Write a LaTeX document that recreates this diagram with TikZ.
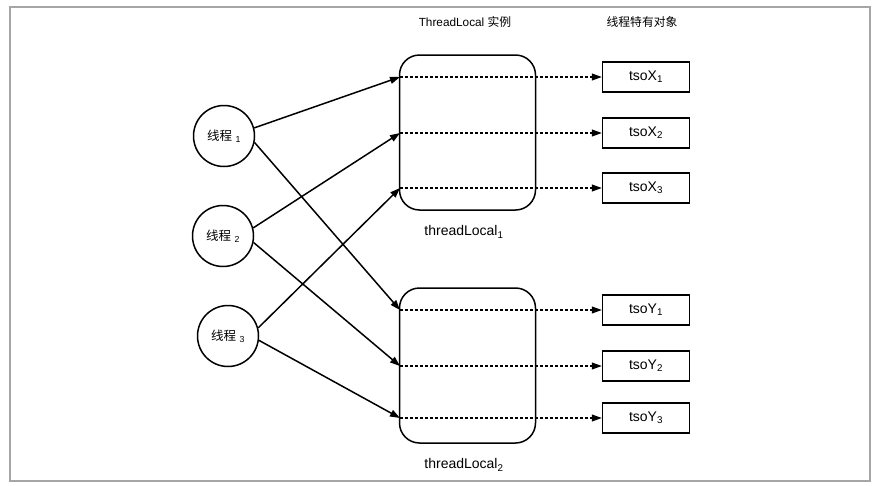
\documentclass[tikz,border=0pt]{standalone}
\usepackage{fontspec}
\setmainfont{Liberation Sans}
\newfontfamily\cjk{Noto Sans CJK SC}
\usetikzlibrary{arrows.meta}

\begin{document}
\begin{tikzpicture}[x=1pt,y=-1pt,line width=1.5pt,
	thread/.style={circle,draw,minimum width=61pt,inner sep=0pt,font=\fontsize{12.5}{14}\selectfont},
	tlbox/.style={draw,rounded corners=20pt,minimum width=136pt,minimum height=155pt},
	tsobox/.style={draw,minimum width=87pt,minimum height=30pt,inner sep=0pt,font=\fontsize{14}{16}\selectfont},
	link/.style={-{Triangle[length=10pt,width=7pt]}},
	deref/.style={dashed,dash pattern=on 3pt off 2pt,-{Triangle[length=10pt,width=7pt]}}]
				\useasboundingbox (0,0) rectangle (889,485);
				\draw [line width=1.5pt,gray!70] (10,7) rectangle (870,481);
				\node [font=\fontsize{11.8}{13}\selectfont] (head1) at (465,22) {ThreadLocal {\cjk 实例}};
				\node [font=\fontsize{11.8}{13}\selectfont\cjk] (head2) at (642,22) {线程特有对象};
				\node [thread] (t1) at (224,136) {{\cjk 线程} \textsubscript{1}};
				\node [thread] (t2) at (223,236) {{\cjk 线程} \textsubscript{2}};
				\node [thread] (t3) at (228,336) {{\cjk 线程} \textsubscript{3}};
				\node [tlbox] (tl1) at (467.5,132.5) {};
				\node [tlbox] (tl2) at (467.5,365.5) {};
				\node [font=\fontsize{14}{16}\selectfont] (n1) at (464,232) {threadLocal\textsubscript{1}};
				\node [font=\fontsize{14}{16}\selectfont] (n2) at (464,465) {threadLocal\textsubscript{2}};
				\node [tsobox] (x1) at (646,77) {tsoX\textsubscript{1}};
				\node [tsobox] (x2) at (646,133) {tsoX\textsubscript{2}};
				\node [tsobox] (x3) at (646,188) {tsoX\textsubscript{3}};
				\node [tsobox] (y1) at (646,310) {tsoY\textsubscript{1}};
				\node [tsobox] (y2) at (646,366) {tsoY\textsubscript{2}};
				\node [tsobox] (y3) at (646,418) {tsoY\textsubscript{3}};
				\foreach \s in {x1,x2,x3,y1,y2,y3} {
					\coordinate (in-\s) at (400,0 |- \s);
				}
				% thread -> threadLocal
				\draw [link] (t1.15) -- (in-x1);
				\draw [link] (t1.-12) -- (in-y1);
				\draw [link] (t2.15) -- (in-x2);
				\draw [link] (t2.-12) -- (in-y2);
				\draw [link] (t3.15) -- (in-x3);
				\draw [link] (t3.-8) -- (in-y3);
				% threadLocal -> object
				\foreach \s in {x1,x2,x3,y1,y2,y3} {
					\draw [deref,line width=1.1pt] (in-\s) -- (\s.west);
				}
			\end{tikzpicture}
\end{document}
